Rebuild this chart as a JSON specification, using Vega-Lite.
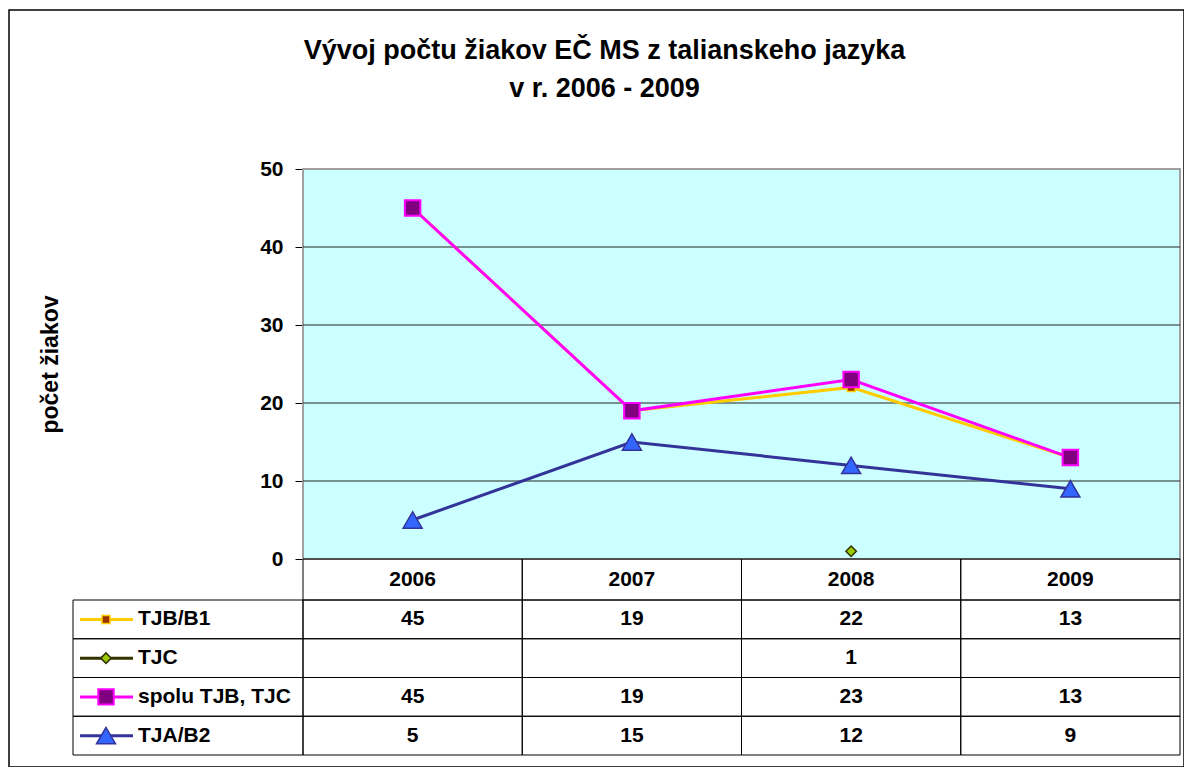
{
  "$schema": "https://vega.github.io/schema/vega-lite/v6.json",
  "width": 1175,
  "height": 757,
  "autosize": {"type": "none"},
  "padding": {"left": 9, "top": 10, "right": 0, "bottom": 0},
  "background": "white",
  "title": {
    "text": ["Vývoj počtu žiakov EČ MS z talianskeho jazyka", "v r. 2006 - 2009"],
    "anchor": "middle",
    "frame": "group",
    "offset": -114,
    "baseline": "alphabetic",
    "lineHeight": 38,
    "dx": 8,
    "font": "Liberation Sans",
    "fontSize": 27,
    "fontWeight": "bold",
    "color": "black"
  },
  "config": {
    "view": {"stroke": "black", "strokeWidth": 1.5},
    "legend": {"disable": true},
    "font": "Liberation Sans"
  },
  "datasets": {
    "series": [
      {"series": "TJB/B1", "year": 2006, "value": 45},
      {"series": "TJB/B1", "year": 2007, "value": 19},
      {"series": "TJB/B1", "year": 2008, "value": 22},
      {"series": "TJB/B1", "year": 2009, "value": 13},
      {"series": "TJC", "year": 2006, "value": null},
      {"series": "TJC", "year": 2007, "value": null},
      {"series": "TJC", "year": 2008, "value": 1},
      {"series": "TJC", "year": 2009, "value": null},
      {"series": "spolu TJB, TJC", "year": 2006, "value": 45},
      {"series": "spolu TJB, TJC", "year": 2007, "value": 19},
      {"series": "spolu TJB, TJC", "year": 2008, "value": 23},
      {"series": "spolu TJB, TJC", "year": 2009, "value": 13},
      {"series": "TJA/B2", "year": 2006, "value": 5},
      {"series": "TJA/B2", "year": 2007, "value": 15},
      {"series": "TJA/B2", "year": 2008, "value": 12},
      {"series": "TJA/B2", "year": 2009, "value": 9}
    ],
    "years": [{"year": 2006}, {"year": 2007}, {"year": 2008}, {"year": 2009}],
    "names": [{"series": "TJB/B1"}, {"series": "TJC"}, {"series": "spolu TJB, TJC"}, {"series": "TJA/B2"}],
    "grid": [{"v": 10}, {"v": 20}, {"v": 30}, {"v": 40}]
  },
  "resolve": {"scale": {"x": "independent", "y": "independent"}},
  "layer": [
    {
      "layer": [
        {
          "data": {"values": [{}]},
          "mark": {"type": "rect", "fill": "#CCFFFF", "stroke": "#A0A0A0", "strokeWidth": 2},
          "encoding": {
            "x": {"datum": 2005.5, "type": "quantitative", "scale": {"domain": [2005.5, 2009.5], "range": [294, 1171], "nice": false, "zero": false}, "axis": null},
            "x2": {"datum": 2009.5},
            "y": {
              "datum": 0, "type": "quantitative",
              "scale": {"domain": [0, 50], "range": [549, 159], "nice": false, "zero": false},
              "axis": {
                "title": "počet žiakov",
                "values": [0, 10, 20, 30, 40, 50],
                "grid": false,
                "offset": -294,
                "domainColor": "black", "domainWidth": 1,
                "tickColor": "black", "tickSize": 8, "tickWidth": 1,
                "labelFont": "Liberation Sans", "labelFontSize": 21, "labelFontWeight": "bold", "labelColor": "black",
                "labelPadding": 12, "labelFlush": false, "labelOverlap": false, "labelBound": false,
                "titleFont": "Liberation Sans", "titleFontSize": 23, "titleFontWeight": "bold", "titleColor": "black",
                "titleX": -253, "titleAngle": -90, "titleAlign": "center", "titleBaseline": "middle"
              }
            },
            "y2": {"datum": 50}
          }
        },
        {
          "data": {"name": "grid"},
          "mark": {"type": "rule", "stroke": "#222222", "strokeWidth": 1},
          "encoding": {
            "x": {"datum": 2005.5, "type": "quantitative", "axis": null},
            "x2": {"datum": 2009.5},
            "y": {"field": "v", "type": "quantitative"}
          }
        },
        {
          "data": {"name": "series"},
          "transform": [{"filter": "datum.series === 'TJB/B1'"}],
          "mark": {"type": "line", "stroke": "#FFCC00", "strokeWidth": 3},
          "encoding": {
            "x": {"field": "year", "type": "quantitative", "axis": null},
            "y": {"field": "value", "type": "quantitative"}
          }
        },
        {
          "data": {"name": "series"},
          "transform": [{"filter": "datum.series === 'TJB/B1'"}],
          "mark": {"type": "point", "shape": "square", "filled": true, "fill": "#993300", "stroke": "#FFCC00", "strokeWidth": 1.5, "size": 64, "opacity": 1},
          "encoding": {
            "x": {"field": "year", "type": "quantitative", "axis": null},
            "y": {"field": "value", "type": "quantitative"}
          }
        },
        {
          "data": {"name": "series"},
          "transform": [{"filter": "datum.series === 'TJC' && datum.value != null"}],
          "mark": {"type": "point", "shape": "diamond", "filled": true, "fill": "#99CC00", "stroke": "#333300", "strokeWidth": 1.5, "size": 110, "opacity": 1},
          "encoding": {
            "x": {"field": "year", "type": "quantitative", "axis": null},
            "y": {"field": "value", "type": "quantitative"}
          }
        },
        {
          "data": {"name": "series"},
          "transform": [{"filter": "datum.series === 'spolu TJB, TJC'"}],
          "mark": {"type": "line", "stroke": "#FF00FF", "strokeWidth": 3},
          "encoding": {
            "x": {"field": "year", "type": "quantitative", "axis": null},
            "y": {"field": "value", "type": "quantitative"}
          }
        },
        {
          "data": {"name": "series"},
          "transform": [{"filter": "datum.series === 'spolu TJB, TJC'"}],
          "mark": {"type": "point", "shape": "square", "filled": true, "fill": "#800080", "stroke": "#FF00FF", "strokeWidth": 2, "size": 240, "opacity": 1},
          "encoding": {
            "x": {"field": "year", "type": "quantitative", "axis": null},
            "y": {"field": "value", "type": "quantitative"}
          }
        },
        {
          "data": {"name": "series"},
          "transform": [{"filter": "datum.series === 'TJA/B2'"}],
          "mark": {"type": "line", "stroke": "#333399", "strokeWidth": 3},
          "encoding": {
            "x": {"field": "year", "type": "quantitative", "axis": null},
            "y": {"field": "value", "type": "quantitative"}
          }
        },
        {
          "data": {"name": "series"},
          "transform": [{"filter": "datum.series === 'TJA/B2'"}],
          "mark": {"type": "point", "shape": "triangle-up", "filled": true, "fill": "#3366FF", "stroke": "#333399", "strokeWidth": 1.5, "size": 360, "opacity": 1},
          "encoding": {
            "x": {"field": "year", "type": "quantitative", "axis": null},
            "y": {"field": "value", "type": "quantitative"}
          }
        }
      ]
    },
    {
      "layer": [
        {
          "data": {"name": "years"},
          "mark": {"type": "rect", "fill": "transparent", "stroke": "black", "strokeWidth": 1},
          "encoding": {
            "x": {"field": "year", "type": "ordinal", "scale": {"domain": [2006, 2007, 2008, 2009], "range": [294, 1171], "paddingInner": 0, "paddingOuter": 0}, "axis": null},
            "y": {"datum": "hdr", "type": "nominal", "scale": {"domain": ["hdr"], "range": [549, 590], "paddingInner": 0, "paddingOuter": 0}, "axis": null}
          }
        },
        {
          "data": {"name": "years"},
          "mark": {"type": "text", "font": "Liberation Sans", "fontSize": 21, "fontWeight": "bold", "color": "black", "align": "center", "baseline": "middle"},
          "encoding": {
            "x": {"field": "year", "type": "ordinal", "axis": null},
            "y": {"datum": "hdr", "type": "nominal", "axis": null},
            "text": {"field": "year", "type": "ordinal"}
          }
        }
      ]
    },
    {
      "resolve": {"scale": {"x": "independent"}},
      "layer": [
        {
          "layer": [
            {
              "data": {"name": "series"},
              "mark": {"type": "rect", "fill": "transparent", "stroke": "black", "strokeWidth": 1},
              "encoding": {
                "x": {"field": "year", "type": "ordinal", "scale": {"domain": [2006, 2007, 2008, 2009], "range": [294, 1171], "paddingInner": 0, "paddingOuter": 0}, "axis": null},
                "y": {"field": "series", "type": "nominal", "scale": {"domain": ["TJB/B1", "TJC", "spolu TJB, TJC", "TJA/B2"], "range": [590, 745], "paddingInner": 0, "paddingOuter": 0}, "axis": null}
              }
            },
            {
              "data": {"name": "series"},
              "transform": [{"filter": "datum.value != null"}],
              "mark": {"type": "text", "font": "Liberation Sans", "fontSize": 21, "fontWeight": "bold", "color": "black", "align": "center", "baseline": "middle"},
              "encoding": {
                "x": {"field": "year", "type": "ordinal", "axis": null},
                "y": {"field": "series", "type": "nominal", "axis": null},
                "text": {"field": "value", "type": "nominal"}
              }
            }
          ]
        },
        {
          "layer": [
            {
              "data": {"name": "names"},
              "mark": {"type": "rect", "fill": "transparent", "stroke": "black", "strokeWidth": 1},
              "encoding": {
                "x": {"datum": 0, "type": "quantitative", "scale": {"domain": [0, 230], "range": [64, 294], "nice": false, "zero": false}, "axis": null},
                "x2": {"datum": 230},
                "y": {"field": "series", "type": "nominal", "axis": null}
              }
            },
            {
              "data": {"name": "names"},
              "mark": {"type": "rule", "strokeWidth": 3},
              "encoding": {
                "x": {"datum": 7, "type": "quantitative", "axis": null},
                "x2": {"datum": 60},
                "y": {"field": "series", "type": "nominal", "axis": null},
                "stroke": {"field": "series", "type": "nominal", "scale": {"domain": ["TJB/B1", "TJC", "spolu TJB, TJC", "TJA/B2"], "range": ["#FFCC00", "#333300", "#FF00FF", "#333399"]}, "legend": null}
              }
            },
            {
              "data": {"name": "names"},
              "transform": [{"filter": "datum.series === 'TJB/B1'"}],
              "mark": {"type": "point", "shape": "square", "filled": true, "fill": "#993300", "stroke": "#FFCC00", "strokeWidth": 1.5, "size": 64, "opacity": 1},
              "encoding": {
                "x": {"datum": 33, "type": "quantitative", "axis": null},
                "y": {"field": "series", "type": "nominal", "axis": null}
              }
            },
            {
              "data": {"name": "names"},
              "transform": [{"filter": "datum.series === 'TJC'"}],
              "mark": {"type": "point", "shape": "diamond", "filled": true, "fill": "#99CC00", "stroke": "#333300", "strokeWidth": 1.5, "size": 110, "opacity": 1},
              "encoding": {
                "x": {"datum": 33, "type": "quantitative", "axis": null},
                "y": {"field": "series", "type": "nominal", "axis": null}
              }
            },
            {
              "data": {"name": "names"},
              "transform": [{"filter": "datum.series === 'spolu TJB, TJC'"}],
              "mark": {"type": "point", "shape": "square", "filled": true, "fill": "#800080", "stroke": "#FF00FF", "strokeWidth": 2, "size": 240, "opacity": 1},
              "encoding": {
                "x": {"datum": 33, "type": "quantitative", "axis": null},
                "y": {"field": "series", "type": "nominal", "axis": null}
              }
            },
            {
              "data": {"name": "names"},
              "transform": [{"filter": "datum.series === 'TJA/B2'"}],
              "mark": {"type": "point", "shape": "triangle-up", "filled": true, "fill": "#3366FF", "stroke": "#333399", "strokeWidth": 1.5, "size": 360, "opacity": 1},
              "encoding": {
                "x": {"datum": 33, "type": "quantitative", "axis": null},
                "y": {"field": "series", "type": "nominal", "axis": null}
              }
            },
            {
              "data": {"name": "names"},
              "mark": {"type": "text", "font": "Liberation Sans", "fontSize": 21, "fontWeight": "bold", "color": "black", "align": "left", "baseline": "middle"},
              "encoding": {
                "x": {"datum": 65, "type": "quantitative", "axis": null},
                "y": {"field": "series", "type": "nominal", "axis": null},
                "text": {"field": "series", "type": "nominal"}
              }
            }
          ]
        }
      ]
    }
  ]
}
